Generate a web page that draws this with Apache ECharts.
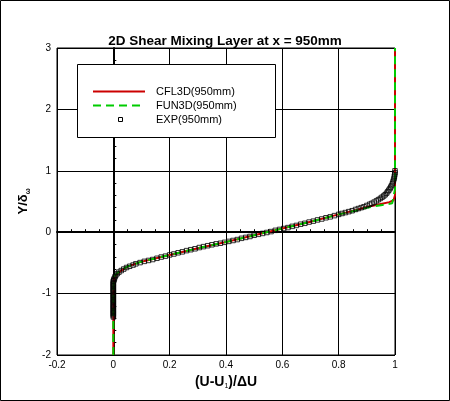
<!DOCTYPE html>
<html>
<head>
<meta charset="utf-8">
<script src="https://cdn.jsdelivr.net/npm/echarts@6/dist/echarts.min.js"></script>
<style>
  html, body { margin: 0; padding: 0; background: #fff; }
  #chart { width: 450px; height: 401px; }
</style>
</head>
<body>
<div id="chart"></div>
<script>
var chart = echarts.init(document.getElementById('chart'));

// 数据
var cfl3d = [
    [0, -2], [0, -1.0], [0.001, -0.8], [0.005, -0.72], [0.02, -0.65], [0.05, -0.56],
    [0.1, -0.48], [0.2, -0.37], [0.3, -0.26], [0.4, -0.16], [0.5, -0.05], [0.6, 0.06],
    [0.7, 0.17], [0.8, 0.29], [0.86, 0.36], [0.9, 0.41], [0.95, 0.46], [0.98, 0.49],
    [0.995, 0.52], [1.0, 0.6], [1.0, 3]
];
var fun3d = [
    [0, -2], [0, -1.0], [0.001, -0.8], [0.004, -0.71], [0.02, -0.64], [0.05, -0.56],
    [0.1, -0.48], [0.2, -0.37], [0.3, -0.26], [0.4, -0.16], [0.5, -0.05], [0.6, 0.06],
    [0.7, 0.17], [0.8, 0.29], [0.86, 0.35], [0.9, 0.40], [0.95, 0.44], [0.99, 0.47],
    [0.997, 0.5], [1.0, 0.7], [1.0, 3]
];
var exp = [
    [0, -1.38], [0, -1.36], [0, -1.34], [0, -1.32], [0, -1.30], [0, -1.28], [0, -1.26],
    [0, -1.24], [0, -1.22], [0, -1.20], [0, -1.18], [0, -1.16], [0, -1.14], [0, -1.12],
    [0, -1.10], [0, -1.08], [0, -1.06], [0, -1.04], [0, -1.02], [0, -1.00], [0, -0.98],
    [0, -0.96], [0, -0.94], [0, -0.92], [0, -0.90], [0, -0.88], [0, -0.86], [0, -0.84],
    [0, -0.82], [0, -0.80], [0.001, -0.79], [0.002, -0.77], [0.004, -0.75],
    [0.006, -0.725], [0.009, -0.70], [0.014, -0.675], [0.02, -0.65], [0.028, -0.625],
    [0.037, -0.60], [0.047, -0.575], [0.058, -0.555], [0.07, -0.535], [0.08, -0.515],
    [0.095, -0.495], [0.11, -0.475], [0.125, -0.46], [0.14, -0.445], [0.155, -0.425],
    [0.17, -0.405], [0.185, -0.39], [0.20, -0.37], [0.215, -0.355], [0.23, -0.335],
    [0.245, -0.32], [0.26, -0.30], [0.275, -0.285], [0.29, -0.27], [0.305, -0.25],
    [0.32, -0.235], [0.335, -0.22], [0.35, -0.205], [0.365, -0.19], [0.38, -0.18],
    [0.395, -0.165], [0.41, -0.15], [0.425, -0.135], [0.44, -0.12], [0.455, -0.10],
    [0.47, -0.085], [0.485, -0.07], [0.50, -0.05], [0.515, -0.035], [0.53, -0.02],
    [0.545, -0.005], [0.56, 0.01], [0.575, 0.03], [0.59, 0.045], [0.605, 0.06],
    [0.62, 0.075], [0.635, 0.095], [0.65, 0.11], [0.665, 0.13], [0.68, 0.145],
    [0.695, 0.165], [0.71, 0.18], [0.725, 0.20], [0.74, 0.215], [0.755, 0.235],
    [0.77, 0.25], [0.785, 0.27], [0.80, 0.29], [0.812, 0.305], [0.824, 0.32],
    [0.836, 0.335], [0.848, 0.35], [0.86, 0.37], [0.87, 0.385], [0.88, 0.40],
    [0.89, 0.415], [0.90, 0.435], [0.91, 0.455], [0.918, 0.47], [0.926, 0.49],
    [0.934, 0.51], [0.941, 0.53], [0.948, 0.55], [0.954, 0.57], [0.96, 0.59],
    [0.965, 0.61], [0.97, 0.635], [0.974, 0.66], [0.978, 0.685], [0.982, 0.71],
    [0.985, 0.735], [0.988, 0.76], [0.991, 0.79], [0.993, 0.82], [0.995, 0.85],
    [0.997, 0.88], [0.998, 0.91], [0.999, 0.94], [1.0, 0.97], [1.0, 1.0]
];
var seriesNames = ['CFL3D(950mm)', 'FUN3D(950mm)', 'EXP(950mm)'];

var font = 'Arial, "Liberation Sans", sans-serif';
var red = '#cc0000';
var green = '#00cc00';

// 图例 (手工画框)
function legendText(i, y) {
    return {
        type: 'text', x: 156, y: y, z: 102, silent: true,
        style: { text: seriesNames[i], font: '11px ' + font, fill: '#000', verticalAlign: 'middle' }
    };
}

var option = {
    backgroundColor: '#fff',
    animation: false,
    title: {
        text: '2D Shear Mixing Layer at x = 950mm',
        left: 'center',
        top: 29,
        textStyle: { fontFamily: font, fontSize: 13.5, fontWeight: 'bold', color: '#000' }
    },
    grid: {
        left: 57, top: 48, width: 338, height: 307,
        show: true, borderColor: '#000', borderWidth: 1
    },
    xAxis: {
        type: 'value',
        min: -0.2, max: 1, interval: 0.2,
        name: '{a|(U-U}{s|1}{a|)/\u0394U}',
        nameLocation: 'middle',
        nameGap: 8,
        nameTextStyle: {
            rich: {
                a: { fontFamily: font, fontSize: 14, fontWeight: 'bold', color: '#000' },
                s: { fontFamily: font, fontSize: 7, color: '#000', padding: [9, 0, 0, 0] }
            }
        },
        axisLine: { lineStyle: { color: '#000', width: 2 } },
        axisTick: { inside: true, length: 5, lineStyle: { color: '#000' } },
        minorTick: { show: true, splitNumber: 4, length: 3, lineStyle: { color: '#000' } },
        axisLabel: { fontFamily: font, fontSize: 10, color: '#000', margin: 5 },
        splitLine: { show: true, lineStyle: { color: '#000', width: 1 } }
    },
    yAxis: {
        type: 'value',
        min: -2, max: 3, interval: 1,
        name: '{a|Y/\u03b4}{s|\u03c9}',
        nameLocation: 'middle',
        nameGap: 14,
        nameRotate: 90,
        nameTextStyle: {
            rich: {
                a: { fontFamily: font, fontSize: 13, fontWeight: 'bold', color: '#000' },
                s: { fontFamily: font, fontSize: 7, fontWeight: 'bold', color: '#000', padding: [9, 0, 0, 0] }
            }
        },
        axisLine: { lineStyle: { color: '#000', width: 2 } },
        axisTick: { inside: true, length: 5, lineStyle: { color: '#000' } },
        minorTick: { show: true, splitNumber: 5, length: 3, lineStyle: { color: '#000' } },
        axisLabel: { fontFamily: font, fontSize: 10, color: '#000', margin: 6 },
        splitLine: { show: true, lineStyle: { color: '#000', width: 1 } }
    },
    graphic: [
        {
            type: 'rect', z: 0, silent: true,
            shape: { x: 0.5, y: 0.5, width: 449, height: 400 },
            style: { fill: 'none', stroke: '#000', lineWidth: 1 }
        },
        {
            type: 'rect', z: 100, silent: true,
            shape: { x: 77.5, y: 64.5, width: 198, height: 73 },
            style: { fill: '#fff', stroke: '#000', lineWidth: 1 }
        },
        {
            type: 'line', z: 101, silent: true,
            shape: { x1: 93, y1: 91.5, x2: 145, y2: 91.5 },
            style: { stroke: red, lineWidth: 2 }
        },
        {
            type: 'line', z: 101, silent: true,
            shape: { x1: 93, y1: 105.5, x2: 145, y2: 105.5 },
            style: { stroke: green, lineWidth: 2, lineDash: [8, 5] }
        },
        {
            type: 'rect', z: 101, silent: true,
            shape: { x: 118.5, y: 117.5, width: 4, height: 4 },
            style: { fill: 'none', stroke: '#000', lineWidth: 1 }
        },
        legendText(0, 91.5),
        legendText(1, 105.5),
        legendText(2, 119.5)
    ],
    series: [
        {
            name: seriesNames[0],
            type: 'line',
            data: cfl3d,
            symbol: 'none',
            lineStyle: { color: red, width: 2 },
            z: 2
        },
        {
            name: seriesNames[1],
            type: 'line',
            data: fun3d,
            symbol: 'none',
            lineStyle: { color: green, width: 2, type: [8, 5] },
            z: 3
        },
        {
            name: seriesNames[2],
            type: 'scatter',
            data: exp,
            symbol: 'rect',
            symbolSize: 4.5,
            itemStyle: { color: 'rgba(0,0,0,0)', borderColor: '#000', borderWidth: 1 },
            z: 4
        }
    ]
};

chart.setOption(option);
</script>
</body>
</html>
